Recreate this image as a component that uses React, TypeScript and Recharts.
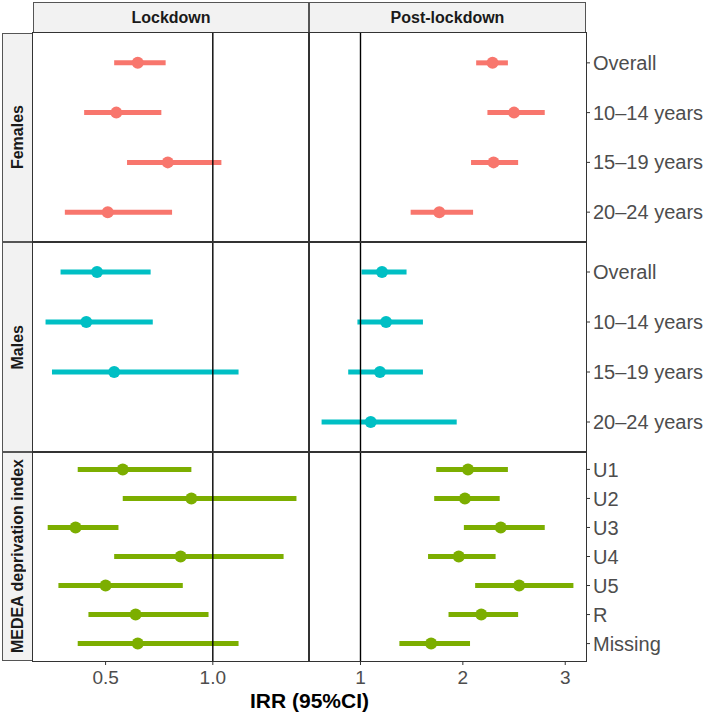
import { ScatterChart, Scatter, XAxis, YAxis, ErrorBar, ReferenceLine } from 'recharts'

const periods = ['Lockdown', 'Post-lockdown']
const groups = ['Females', 'Males', 'MEDEA deprivation index']
const ageLabels = ['Overall', '10–14 years', '15–19 years', '20–24 years']
const medeaLabels = ['U1', 'U2', 'U3', 'U4', 'U5', 'R', 'Missing']
const lockdownTicks = [0.5, 1.0]
const postTicks = [1, 2, 3]

// [IRR, lower 95% CI, upper 95% CI]; null = no estimate
const femalesLockdown = [[0.65, 0.54, 0.78], [0.55, 0.40, 0.76], [0.79, 0.60, 1.04], [0.51, 0.31, 0.81]]
const femalesPost = [[2.29, 2.13, 2.44], [2.50, 2.24, 2.80], [2.30, 2.08, 2.54], [1.77, 1.49, 2.10]]
const malesLockdown = [[0.46, 0.29, 0.71], [0.41, 0.22, 0.72], [0.54, 0.25, 1.12], null]
const malesPost = [[1.21, 1.01, 1.45], [1.25, 0.97, 1.61], [1.19, 0.88, 1.61], [1.10, 0.62, 1.94]]
const medeaLockdown = [[0.58, 0.37, 0.90], [0.90, 0.58, 1.39], [0.36, 0.23, 0.56], [0.85, 0.54, 1.33], [0.50, 0.28, 0.86], [0.64, 0.42, 0.98], [0.65, 0.37, 1.12]]
const medeaPost = [[2.05, 1.74, 2.44], [2.02, 1.72, 2.36], [2.37, 2.01, 2.80], [1.96, 1.66, 2.32], [2.55, 2.12, 3.08], [2.18, 1.86, 2.54], [1.69, 1.38, 2.07]]

const colors = ['#F8766D', '#00BFC4', '#7CAE00']

type Row = number[] | null

// ggplot-style free scale: data range plus 5% each side
function expandRange(sets: Row[][]) {
  const all = sets.flat().filter(Boolean) as number[][]
  const lo = Math.min(...all.map((r) => r[1]))
  const hi = Math.max(...all.map((r) => r[2]))
  const pad = (hi - lo) * 0.05
  return [lo - pad, hi + pad]
}

const lockdownDomain = expandRange([femalesLockdown, malesLockdown, medeaLockdown])
const postDomain = expandRange([femalesPost, malesPost, medeaPost])

const colX = [33, 309]
const colW = [276, 277]
const rowY = [33, 242, 452]
const rowH = [209, 210, 209]
const font = '"Liberation Sans", Arial, sans-serif'
const tickStyle = { fontSize: 19, fill: '#4d4d4d', fontFamily: font }

function Panel({ rows, labels, color, col, row }: { rows: Row[]; labels: string[]; color: string; col: number; row: number }) {
  const showX = row === 2
  const showY = col === 1
  const domain = col === 0 ? lockdownDomain : postDomain
  const ticks = col === 0 ? lockdownTicks : postTicks
  const fmt = (v: number) => (col === 0 ? v.toFixed(1) : String(v))
  const data = rows
    .map((r, i) => (r ? { y: i + 1, irr: r[0], err: [r[0] - r[1], r[2] - r[0]] } : null))
    .filter(Boolean)
  const w = colW[col] + (showY ? 123 : 0)
  const h = rowH[row] + (showX ? 50 : 0)
  return (
    <div style={{ position: 'absolute', left: colX[col], top: rowY[row] }}>
      <ScatterChart width={w} height={h} margin={{ top: 0, right: 0, bottom: 0, left: 0 }}>
        <XAxis
          type="number"
          dataKey="irr"
          domain={domain}
          allowDataOverflow
          ticks={ticks}
          tickFormatter={fmt}
          interval={0}
          hide={!showX}
          height={50}
          axisLine={false}
          tickSize={4}
          tickMargin={6}
          tickLine={{ stroke: '#333' }}
          tick={tickStyle}
        />
        <YAxis
          type="number"
          dataKey="y"
          domain={[0.4, labels.length + 0.6]}
          allowDataOverflow
          reversed
          ticks={labels.map((_, i) => i + 1)}
          tickFormatter={(v: number) => labels[v - 1]}
          interval={0}
          orientation="right"
          hide={!showY}
          width={123}
          axisLine={false}
          tickSize={4}
          tickMargin={3}
          tickLine={{ stroke: '#333' }}
          tick={{ ...tickStyle, fontSize: 20, textAnchor: 'start' }}
        />
        <Scatter
          data={data}
          isAnimationActive={false}
          fill={color}
          shape={(p: any) => <circle cx={p.cx} cy={p.cy} r={6} fill={color} />}
        >
          <ErrorBar dataKey="err" direction="x" width={0} strokeWidth={5} stroke={color} isAnimationActive={false} />
        </Scatter>
        <ReferenceLine x={1} stroke="#000" strokeWidth={1.4} zIndex={1000} />
      </ScatterChart>
    </div>
  )
}

export default function App() {
  const panels = [
    [femalesLockdown, femalesPost, ageLabels],
    [malesLockdown, malesPost, ageLabels],
    [medeaLockdown, medeaPost, medeaLabels],
  ] as [Row[], Row[], string[]][]
  return (
    <div style={{ position: 'absolute', left: 0, top: 0, width: 709, height: 716, background: '#fff', fontFamily: font }}>
      {periods.map((p, c) => (
        <div
          key={p}
          style={{
            position: 'absolute', left: colX[c], top: 2, width: colW[c], height: 31, boxSizing: 'border-box',
            background: '#f2f2f2', border: '1px solid #555', display: 'flex', alignItems: 'center',
            justifyContent: 'center', fontSize: 16, fontWeight: 'bold', color: '#1a1a1a',
          }}
        >
          {p}
        </div>
      ))}
      {groups.map((g, r) => (
        <div
          key={g}
          style={{
            position: 'absolute', left: 2, top: rowY[r], width: 31, height: rowH[r], boxSizing: 'border-box',
            background: '#f2f2f2', border: '1px solid #555', display: 'flex', alignItems: 'center',
            justifyContent: 'center',
          }}
        >
          <span style={{ writingMode: 'vertical-rl', transform: 'rotate(180deg)', fontSize: 16, fontWeight: 'bold', color: '#1a1a1a', whiteSpace: 'nowrap' }}>
            {g}
          </span>
        </div>
      ))}
      {panels.map(([a, b, labels], r) => (
        <div key={r}>
          <Panel rows={a} labels={labels} color={colors[r]} col={0} row={r} />
          <Panel rows={b} labels={labels} color={colors[r]} col={1} row={r} />
        </div>
      ))}
      {rowY.map((y, r) =>
        colX.map((x, c) => (
          <div
            key={`${r}-${c}`}
            style={{
              position: 'absolute', left: x - 1, top: y - 1, width: colW[c] + 2, height: rowH[r] + 2,
              boxSizing: 'border-box', border: '1.5px solid #333', pointerEvents: 'none',
            }}
          />
        ))
      )}
      <div style={{ position: 'absolute', left: 33, width: 553, top: 689, lineHeight: '24px', textAlign: 'center', fontSize: 21, fontWeight: 'bold', color: '#000' }}>
        IRR (95%CI)
      </div>
    </div>
  )
}
